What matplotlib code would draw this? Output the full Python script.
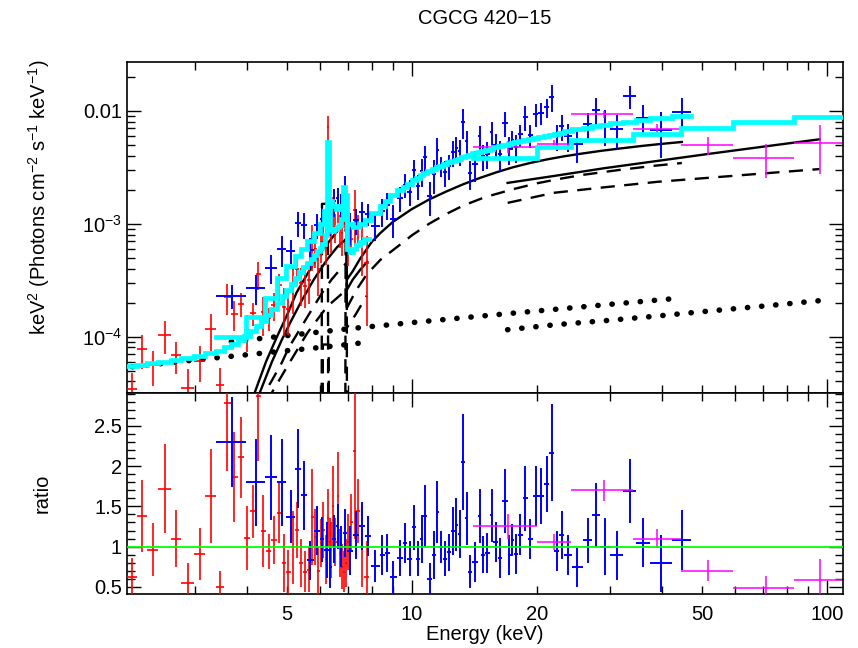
#%% Imports, fonts

import numpy as np
import matplotlib
matplotlib.use('Agg')
import matplotlib.pyplot as plt
from matplotlib.ticker import FixedLocator, FuncFormatter, NullFormatter, MultipleLocator, LogLocator

plt.rcParams['font.family'] = ['Liberation Sans', 'DejaVu Sans']
plt.rcParams['mathtext.fontset'] = 'custom'
plt.rcParams['mathtext.rm'] = 'Liberation Sans'
plt.rcParams['mathtext.it'] = 'Liberation Sans:italic'
plt.rcParams['mathtext.bf'] = 'Liberation Sans:bold'


#%% Data

# XMM (red): bin edges (keV), data/model ratio, 1-sigma error, model (keV^2 ph/cm2/s/keV)
red_edges = [2.06, 2.18, 2.30, 2.45, 2.62, 2.78, 2.98, 3.18, 3.38, 3.52, 3.66, 3.80, 3.94, 4.08,
             4.20, 4.32, 4.45, 4.58, 4.72, 4.86, 4.98, 5.10, 5.22, 5.34, 5.46, 5.58, 5.70, 5.80,
             5.90, 6.00, 6.08, 6.16, 6.23, 6.30, 6.36, 6.42, 6.50, 6.58, 6.66, 6.74, 6.82, 6.90,
             6.98, 7.08, 7.20, 7.35, 7.50, 7.68, 7.88]
red_ratio = [0.62, 1.38, 0.96, 1.72, 1.10, 0.55, 0.91, 1.63, 0.50, 2.79, 1.86, 2.11, 1.11, 1.44,
             2.87, 1.19, 0.94, 1.08, 1.42, 0.80, 0.68, 0.99, 1.21, 0.80, 0.69, 0.71, 1.37, 1.12,
             0.70, 1.04, 1.21, 0.84, 1.36, 1.06, 0.96, 1.50, 1.06, 1.63, 0.92, 0.75, 0.69, 0.80,
             1.06, 1.30, 2.19, 1.44, 1.00, 0.62]
red_rerr = [0.24, 0.45, 0.33, 0.55, 0.35, 0.25, 0.32, 0.58, 0.20, 0.85, 0.56, 0.50, 0.40, 0.33,
            0.80, 0.45, 0.22, 0.30, 0.38, 0.36, 0.28, 0.45, 0.35, 0.30, 0.25, 0.28, 0.60, 0.35,
            0.30, 0.30, 0.35, 0.30, 0.35, 0.30, 0.35, 0.50, 0.30, 0.55, 0.30, 0.28, 0.25, 0.30,
            0.35, 0.35, 1.10, 0.40, 0.50, 0.45]
red_model = [5.5e-5, 5.6e-5, 5.8e-5, 6.0e-5, 6.2e-5, 6.4e-5, 6.7e-5, 7.1e-5, 7.5e-5, 8.0e-5,
             8.6e-5, 9.3e-5, 1.02e-4, 1.12e-4, 1.24e-4, 1.38e-4, 1.55e-4, 1.75e-4, 2.0e-4, 2.3e-4,
             2.6e-4, 2.95e-4, 3.3e-4, 3.7e-4, 4.1e-4, 4.5e-4, 4.9e-4, 5.3e-4, 5.7e-4, 6.1e-4,
             6.6e-4, 8.0e-4, 5.3e-3, 1.6e-3, 9.0e-4, 8.6e-4, 8.9e-4, 9.3e-4, 9.8e-4, 1.1e-3,
             2.1e-3, 1.2e-3, 6.0e-4, 5.6e-4, 6.0e-4, 6.5e-4, 6.9e-4, 7.3e-4]

# NuSTAR (blue)
blue_edges = [3.37, 3.98, 4.42, 4.73, 4.98, 5.22, 5.40, 5.58, 5.80, 6.00, 6.15, 6.30, 6.42, 6.56,
              6.68, 6.82, 6.96, 7.20, 7.45, 7.70, 7.95, 8.37, 8.60, 8.85, 9.20, 9.50, 9.75, 10.0,
              10.2, 10.45, 10.65, 10.85, 11.2, 11.4, 11.6, 11.9, 12.15, 12.4, 12.7, 12.9, 13.15,
              13.45, 13.65, 13.95, 14.4, 14.7, 15.0, 15.4, 15.7, 16.1, 16.5, 17.0, 17.3, 17.6,
              18.0, 18.5, 19.0, 19.6, 20.1, 20.8, 21.4, 22.0, 22.6, 23.3, 24.3, 25.8, 27.2, 28.4,
              30.0, 32.3, 34.6, 37.5, 42.3, 47.0]
blue_ratio = [2.30, 1.80, 1.86, 1.80, 1.37, 1.97, 1.64, 0.83, 1.20, 1.09,
              0.96, 0.74, 1.09, 1.25, 1.00, 1.17, 0.95, 1.14, 1.26, 1.13,
              0.76, 0.90, 0.92, 0.62, 0.86, 1.04, 0.85, 1.24, 0.85, 1.09,
              1.38, 0.60, 0.90, 1.43, 1.00, 0.85, 0.93, 1.19, 1.27, 1.16,
              2.05, 1.35, 0.69, 0.81, 1.38, 0.90, 0.92, 1.39, 1.06, 0.86,
              1.57, 0.90, 1.08, 0.91, 1.15, 1.60, 1.09, 1.63, 1.63, 1.78,
              2.17, 0.95, 1.14, 0.90, 0.74, 1.08, 1.39, 1.00, 0.89, 1.69,
              1.05, 0.79, 1.08]
blue_rerr = [0.56, 0.54, 0.53, 0.54, 0.33, 0.49, 0.43, 0.24, 0.30, 0.28,
             0.35, 0.25, 0.30, 0.28, 0.26, 0.30, 0.30, 0.30, 0.30, 0.25,
             0.20, 0.25, 0.24, 0.20, 0.22, 0.25, 0.22, 0.28, 0.22, 0.30,
             0.38, 0.20, 0.30, 0.38, 0.20, 0.22, 0.23, 0.30, 0.33, 0.30,
             0.60, 0.33, 0.20, 0.25, 0.33, 0.23, 0.25, 0.33, 0.25, 0.25,
             0.40, 0.25, 0.20, 0.25, 0.25, 0.40, 0.25, 0.37, 0.35, 0.35,
             0.60, 0.25, 0.30, 0.25, 0.24, 0.28, 0.40, 0.35, 0.30, 0.40,
             0.30, 0.35, 0.37]
blue_model = [1.0e-4, 1.5e-4, 2.2e-4, 3.3e-4, 4.2e-4, 5.2e-4, 6.0e-4, 7.0e-4, 8.2e-4, 1.0e-3,
              1.3e-3, 1.6e-3, 1.45e-3, 1.35e-3, 1.45e-3, 1.8e-3, 1.0e-3, 9.4e-4, 1.0e-3, 1.08e-3,
              1.25e-3, 1.45e-3, 1.6e-3, 1.78e-3, 1.97e-3, 2.12e-3, 2.27e-3, 2.42e-3, 2.55e-3, 2.7e-3,
              2.8e-3, 2.93e-3, 3.07e-3, 3.16e-3, 3.27e-3, 3.38e-3, 3.5e-3, 3.6e-3, 3.7e-3, 3.78e-3,
              3.9e-3, 3.98e-3, 4.07e-3, 4.2e-3, 4.32e-3, 4.42e-3, 4.53e-3, 4.63e-3, 4.74e-3, 4.85e-3,
              4.97e-3, 5.08e-3, 5.16e-3, 5.25e-3, 5.37e-3, 5.5e-3, 5.63e-3, 5.76e-3, 5.9e-3, 6.04e-3,
              6.17e-3, 6.3e-3, 6.43e-3, 6.6e-3, 6.85e-3, 7.1e-3, 7.3e-3, 7.5e-3, 7.75e-3, 8.0e-3,
              8.3e-3, 8.65e-3, 9.0e-3]

# Swift/BAT (magenta)
mag_edges = [14.0, 20.0, 24.2, 34.1, 44.6, 59.3, 83.3, 109.0]
mag_cen = [17.0, 22.0, 29.0, 39.0, 51.7, 71.2, 96.0]
mag_ratio = [1.25, 1.06, 1.70, 1.10, 0.70, 0.48, 0.58]
mag_rerr = [0.15, 0.10, 0.13, 0.12, 0.13, 0.16, 0.27]
mag_model = [3.84e-3, 4.8e-3, 5.5e-3, 6.3e-3, 7.1e-3, 8.0e-3, 8.9e-3]

# Model components (black)
solid_nu_e = [4.0, 4.18, 4.45, 4.73, 5.0, 5.27, 5.6, 6.0, 6.4, 6.8, 6.95, 6.97, 7.2, 7.5, 8.0, 8.4,
              9.0, 10.0, 11.0, 12.1, 13.3, 14.6, 16.0, 17.5, 19.3, 21.2, 23.2, 25.4, 28.5, 31.7,
              36.0, 40.0, 44.7]
solid_nu_f = [2.2e-5, 3.2e-5, 6.0e-5, 1.0e-4, 1.55e-4, 2.45e-4, 3.6e-4, 5.5e-4, 7.4e-4, 9.8e-4,
              1.03e-3, 3.2e-4, 3.8e-4, 4.9e-4, 6.9e-4, 8.3e-4, 1.04e-3, 1.35e-3, 1.64e-3, 1.93e-3,
              2.24e-3, 2.55e-3, 2.86e-3, 3.16e-3, 3.46e-3, 3.72e-3, 3.95e-3, 4.16e-3, 4.42e-3, 4.64e-3,
              4.9e-3, 5.1e-3, 5.3e-3]
solid_x_e = [4.1, 4.3, 4.6, 4.86, 5.1, 5.43, 5.8, 6.24, 6.6, 6.9, 6.96, 6.97, 7.2, 7.5, 7.8]
solid_x_f = [2.2e-5, 3.2e-5, 6.0e-5, 9.4e-5, 1.35e-4, 2.1e-4, 3.2e-4, 4.8e-4, 6.2e-4, 7.2e-4,
             7.4e-4, 2.6e-4, 3.2e-4, 3.9e-4, 4.6e-4]
solid_bat_f = [2.3e-3, 2.65e-3, 3.1e-3, 3.6e-3, 4.15e-3, 4.85e-3, 5.6e-3]

dash_nu_e = [4.3, 4.42, 4.6, 4.86, 5.05, 5.4, 5.6, 6.1, 6.4, 6.7, 6.95, 6.97, 7.35, 7.8, 8.4,
             9.4, 10.0, 11.0, 12.1, 13.3, 15.0, 17.5, 20.0, 22.7, 26.0, 31.7, 38.0, 44.7]
dash_nu_f = [2.4e-5, 3.2e-5, 4.1e-5, 5.9e-5, 8.0e-5, 1.2e-4, 1.5e-4, 2.5e-4, 3.2e-4, 3.9e-4,
             4.5e-4, 1.8e-4, 2.6e-4, 3.6e-4, 4.8e-4, 6.6e-4, 7.9e-4, 1.0e-3, 1.22e-3, 1.45e-3,
             1.72e-3, 2.02e-3, 2.28e-3, 2.5e-3, 2.72e-3, 3.0e-3, 3.25e-3, 3.45e-3]
dash_x_e = [4.5, 4.6, 5.0, 5.6, 6.24, 6.6, 6.95, 6.97, 7.3, 7.78]
dash_x_f = [2.6e-5, 3.2e-5, 5.4e-5, 1.08e-4, 1.84e-4, 2.2e-4, 2.6e-4, 1.2e-4, 1.55e-4, 2.3e-4]
dash_bat_f = [1.53e-3, 1.88e-3, 2.1e-3, 2.35e-3, 2.55e-3, 2.8e-3, 3.05e-3]

# narrow Fe lines (dashed)
fe_ka_e = [6.05, 6.07, 6.27, 6.29]
fe_ka_f = [1e-6, 1.5e-3, 1.5e-3, 1e-6]
fe_ka2_e = [6.08, 6.10, 6.30, 6.32]
fe_ka2_f = [1e-6, 8.5e-5, 8.5e-5, 1e-6]
fe_kb_e = [6.90, 6.92, 6.96, 6.98]
fe_kb_f = [1e-6, 9.0e-4, 9.0e-4, 1e-6]

# scattered power law (dotted)
dot_x_e = [2.12, 3.0, 4.0, 5.0, 6.0, 7.0, 7.78]
dot_x_f = [5.4e-5, 6.2e-5, 6.9e-5, 7.5e-5, 8.0e-5, 8.5e-5, 8.9e-5]
dot_nu_e = [3.67, 5.0, 7.0, 10.0, 15.0, 22.0, 30.0, 44.7]
dot_nu_f = [9.0e-5, 1.02e-4, 1.17e-4, 1.33e-4, 1.53e-4, 1.74e-4, 1.93e-4, 2.2e-4]
dot_bat_f = [1.15e-4, 1.27e-4, 1.38e-4, 1.52e-4, 1.68e-4, 1.87e-4, 2.08e-4]


#%% Helpers

def bins(edges, ratio, rerr, model):
    edges = np.asarray(edges)
    lo, hi = edges[:-1], edges[1:]
    cen = 0.5 * (lo + hi)
    return lo, hi, cen, np.asarray(ratio), np.asarray(rerr), np.asarray(model)


def steps(edges, vals):
    return np.repeat(np.asarray(edges), 2)[1:-1], np.repeat(np.asarray(vals), 2)


#%% Figure

fig = plt.figure(figsize=(8.58, 6.48), dpi=100)
ax1 = fig.add_axes([0.1480, 0.3935, 0.8345, 0.5108])
ax2 = fig.add_axes([0.1480, 0.0833, 0.8345, 0.3102])

dash = (0, (6, 4))
dots = (0, (0.05, 2.5))

# black model components
for e, f in [(solid_nu_e, solid_nu_f), (solid_x_e, solid_x_f), (mag_cen, solid_bat_f)]:
    ax1.plot(e, f, color='k', lw=1.7, zorder=2)
for e, f in [(dash_nu_e, dash_nu_f), (dash_x_e, dash_x_f), (mag_cen, dash_bat_f),
             (fe_ka_e, fe_ka_f), (fe_ka2_e, fe_ka2_f), (fe_kb_e, fe_kb_f)]:
    ax1.plot(e, f, color='k', lw=1.7, linestyle=dash, zorder=2)
for e, f in [(dot_x_e, dot_x_f), (dot_nu_e, dot_nu_f), (mag_cen, dot_bat_f)]:
    ax1.plot(e, f, color='k', lw=4.0, linestyle=dots, dash_capstyle='round', zorder=2)

# data and models
sets = [
    (red_edges, None, red_ratio, red_rerr, red_model, '#ff0000', 1.2),
    (blue_edges, None, blue_ratio, blue_rerr, blue_model, '#0000ff', 1.4),
    (mag_edges, mag_cen, mag_ratio, mag_rerr, mag_model, '#ff00ff', 1.1),
]
for edges, cen_in, ratio, rerr, model, col, lw in sets:
    lo, hi, cen, ratio, rerr, model = bins(edges, ratio, rerr, model)
    if cen_in is not None:
        cen = np.asarray(cen_in)
    xerr = [cen - lo, hi - cen]
    ax1.errorbar(cen, ratio * model, xerr=xerr, yerr=rerr * model, fmt='none',
                 ecolor=col, elinewidth=lw, capsize=0, zorder=3)
    sx, sy = steps(edges, model)
    ax1.plot(sx, sy, color='#00ffff', lw=3.4, solid_joinstyle='miter', zorder=4)
    ax2.errorbar(cen, ratio, xerr=xerr, yerr=rerr, fmt='none',
                 ecolor=col, elinewidth=lw, capsize=0, zorder=3)

ax2.axhline(1.0, color='#00ff00', lw=1.3, zorder=4)

#%% Axes styling

for ax in (ax1, ax2):
    ax.set_xscale('log')
    ax.set_xlim(2.057, 109.3)
    ax.xaxis.set_major_locator(FixedLocator([10, 100]))
    ax.xaxis.set_minor_locator(FixedLocator([3, 4, 5, 6, 7, 8, 9, 20, 30, 40, 50, 60, 70, 80, 90]))
    ax.tick_params(which='both', direction='in', top=True, right=True, labelsize=14.5, width=1.0)
    ax.tick_params(which='major', length=10)
    ax.tick_params(which='minor', length=6)
    for s in ax.spines.values():
        s.set_linewidth(1.2)

ax1.xaxis.set_major_formatter(NullFormatter())
ax1.xaxis.set_minor_formatter(NullFormatter())
lab = {5: '5', 10: '10', 20: '20', 50: '50', 100: '100'}
fmt = FuncFormatter(lambda v, p: lab.get(int(round(v)), '') if abs(v - round(v)) < 1e-6 else '')
ax2.xaxis.set_major_formatter(fmt)
ax2.xaxis.set_minor_formatter(fmt)
ax2.tick_params(axis='x', which='both', pad=8)

ax1.set_yscale('log')
ax1.set_ylim(3.16e-5, 0.0271)
ax1.yaxis.set_major_locator(LogLocator(base=10, numticks=10))
ax1.yaxis.set_minor_locator(LogLocator(base=10, subs=np.arange(2, 10), numticks=10))
ylab = {-2: '0.01', -3: r'$10^{-3}$', -4: r'$10^{-4}$'}
ax1.yaxis.set_major_formatter(FuncFormatter(lambda v, p: ylab.get(int(round(np.log10(v))), '')))
ax1.yaxis.set_minor_formatter(NullFormatter())

ax2.set_ylim(0.41, 2.91)
ax2.yaxis.set_major_locator(FixedLocator([0.5, 1.0, 1.5, 2.0, 2.5]))
ax2.yaxis.set_minor_locator(MultipleLocator(0.1))
ax2.yaxis.set_major_formatter(FuncFormatter(lambda v, p: '%g' % v))

ax1.set_ylabel(r'keV$^2$ (Photons cm$^{-2}$ s$^{-1}$ keV$^{-1}$)', fontsize=14.5)
ax1.yaxis.set_label_coords(-0.105, 0.59)
ax2.set_ylabel('ratio', fontsize=14.5)
ax2.yaxis.set_label_coords(-0.105, 0.5)
ax2.set_xlabel('Energy (keV)', fontsize=14.5, va='center')
ax2.xaxis.set_label_coords(0.5, -0.2)

fig.text(485 / 858, 1 - 19 / 648, 'CGCG 420\u221215', ha='center', va='center', fontsize=14.5)

plt.savefig('out.png', dpi=100)
